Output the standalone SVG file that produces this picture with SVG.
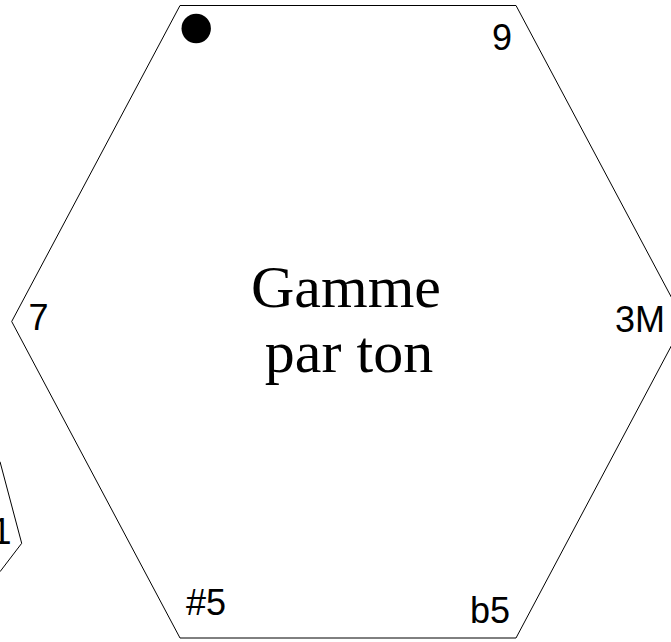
<svg xmlns="http://www.w3.org/2000/svg" width="671" height="642" viewBox="0 0 671 642">
  <style>
    .shape { fill: none; stroke: #000; stroke-width: 1; }
    .lbl { font-family: "Liberation Sans", Arial, sans-serif; font-size: 36px; fill: #000; }
    .title { font-family: "Liberation Serif", "Times New Roman", serif; font-size: 60px; fill: #000; text-anchor: middle; }
  </style>
  <rect width="671" height="642" fill="#fff"/>
  <g id="node-gamme-par-ton">
    <polygon class="shape" points="180,5.5 516,5.5 684.3,321.5 516,638 180,638 11.7,321.5"/>
    <circle cx="196.2" cy="28.5" r="14.7" fill="#000"/>
    <text class="lbl" x="492" y="50">9</text>
    <text class="lbl" x="615" y="332">3M</text>
    <text class="lbl" x="470" y="623">b5</text>
    <text class="lbl" x="186" y="615">#5</text>
    <text class="lbl" x="28.5" y="330">7</text>
    <text class="title" x="346" y="307">Gamme</text>
    <text class="title" x="349" y="372">par ton</text>
  </g>
  <g id="node-neighbor">
    <polyline class="shape" points="0,461.7 21.7,543.3 0,571.7"/>
    <text class="lbl" x="-8.5" y="544">1</text>
  </g>
  <g id="connectors"></g>
</svg>
